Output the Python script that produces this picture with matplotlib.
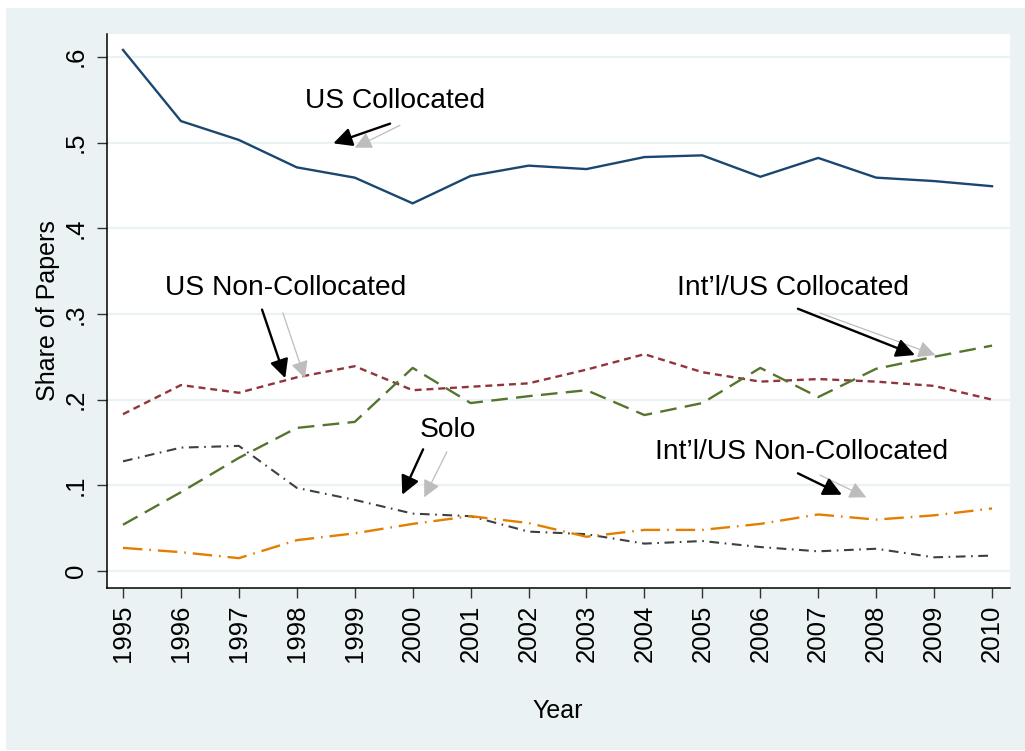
import matplotlib
matplotlib.use("Agg")
import matplotlib.pyplot as plt
from matplotlib.patches import Rectangle

plt.rcParams['font.family'] = ['Liberation Sans', 'DejaVu Sans']
plt.rcParams['lines.scale_dashes'] = False

# ---- data ----
years = list(range(1995, 2011))

us_collocated = [0.608, 0.525, 0.503, 0.471, 0.459, 0.429, 0.461, 0.473,
                 0.469, 0.483, 0.485, 0.460, 0.482, 0.459, 0.455, 0.449]
us_noncollocated = [0.183, 0.217, 0.208, 0.226, 0.239, 0.211, 0.215, 0.219,
                    0.235, 0.253, 0.232, 0.221, 0.224, 0.221, 0.216, 0.200]
intl_collocated = [0.054, 0.092, 0.132, 0.167, 0.174, 0.237, 0.196, 0.204,
                   0.211, 0.182, 0.196, 0.237, 0.203, 0.236, 0.250, 0.263]
solo = [0.128, 0.144, 0.146, 0.097, 0.083, 0.067, 0.064, 0.046,
        0.043, 0.032, 0.035, 0.028, 0.023, 0.026, 0.016, 0.018]
intl_noncollocated = [0.027, 0.022, 0.015, 0.036, 0.044, 0.055, 0.064, 0.056,
                      0.040, 0.048, 0.048, 0.055, 0.066, 0.060, 0.065, 0.073]

ytick_values = [0, 0.1, 0.2, 0.3, 0.4, 0.5, 0.6]
ytick_labels = ['0', '.1', '.2', '.3', '.4', '.5', '.6']

# label text, text position, black arrow (tail, head), grey arrow (tail, head)
annotations = [
    ("US Collocated", (1999.70, 0.548),
     ((1999.61, 0.522), (1998.63, 0.499)), ((1999.78, 0.520), (1999.00, 0.494))),
    ("US Non-Collocated", (1997.81, 0.330),
     ((1997.40, 0.305), (1997.80, 0.225)), ((1997.76, 0.301), (1998.14, 0.225))),
    ("Int\u2019l/US Collocated", (2006.57, 0.330),
     ((2006.65, 0.306), (2008.67, 0.252)), ((2007.03, 0.301), (2009.02, 0.252))),
    ("Solo", (2000.61, 0.165),
     ((2000.18, 0.142), (1999.82, 0.089)), ((2000.59, 0.139), (2000.20, 0.086))),
    ("Int\u2019l/US Non-Collocated", (2006.72, 0.139),
     ((2006.65, 0.114), (2007.41, 0.089)), ((2007.03, 0.112), (2007.83, 0.086))),
]

W, H = 1025, 751
fig = plt.figure(figsize=(W / 100, H / 100), dpi=100)
fig.patch.set_facecolor('white')
bg = Rectangle((6 / W, 1 / H), 1 - 6 / W, 742 / H, transform=fig.transFigure,
               facecolor='#eaf2f3', edgecolor='none', zorder=-10)
fig.add_artist(bg)

ax = fig.add_axes([107 / W, 1 - 588 / H, 903 / W, 554 / H])
ax.set_facecolor('white')

ax.plot(years, us_collocated, color='#1a476f', lw=1.7)
ax.plot(years, us_noncollocated, color='#90353b', lw=1.7, dashes=(5, 3.5))
ax.plot(years, intl_collocated, color='#55752f', lw=1.7, dashes=(12, 6))
ax.plot(years, solo, color='#3f3f3f', lw=1.5, dashes=(7, 4, 1.2, 4))
ax.plot(years, intl_noncollocated, color='#e37e00', lw=1.7, dashes=(14, 5, 1.2, 5))

for label, pos, black, grey in annotations:
    ax.text(pos[0], pos[1], label, ha='center', va='center', fontsize=20.3)
    ax.annotate('', xy=grey[1], xytext=grey[0],
                arrowprops=dict(arrowstyle='-|>', color='#bdbdbd', lw=0.9,
                                mutation_scale=26, shrinkA=0, shrinkB=0))
    ax.annotate('', xy=black[1], xytext=black[0],
                arrowprops=dict(arrowstyle='-|>', color='black', lw=1.7,
                                mutation_scale=28, shrinkA=0, shrinkB=0))

ax.set_xlim(1994.724, 2010.31)
ax.set_ylim(-0.0198, 0.6266)
ax.set_xticks(years)
ax.set_xticklabels([str(y) for y in years])
ax.set_yticks(ytick_values)
ax.set_yticklabels(ytick_labels)

ax.grid(axis='y', color='#eaf2f3', lw=1.6)
ax.set_axisbelow(True)
for side in ('top', 'right'):
    ax.spines[side].set_visible(False)
for side in ('left', 'bottom'):
    ax.spines[side].set_color('black')
    ax.spines[side].set_linewidth(1.1)

ax.tick_params(axis='both', length=7, width=1, color='#333333', labelsize=18.5)
ax.tick_params(axis='x', labelrotation=90, pad=5)
ax.tick_params(axis='y', labelrotation=90, pad=7)
for t in ax.get_yticklabels():
    t.set_va('center')

ax.set_xlabel('Year', fontsize=18)
ax.set_ylabel('Share of Papers', fontsize=18)
ax.xaxis.label.set_va('center')
ax.yaxis.label.set_va('center')
ax.xaxis.set_label_coords((558 - 107) / 903, (588 - 711) / 554)
ax.yaxis.set_label_coords((48 - 107) / 903, 0.5)

fig.savefig('out.png', dpi=100, facecolor=fig.get_facecolor())
